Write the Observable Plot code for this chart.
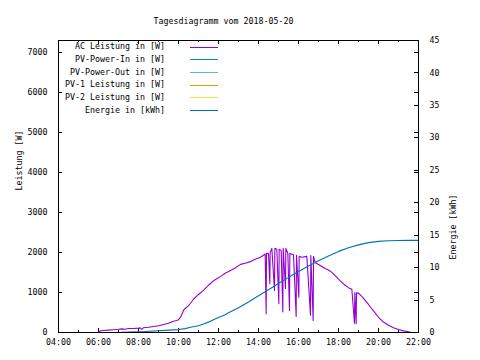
<!DOCTYPE html>
<html>
<head>
<meta charset="utf-8">
<script src="https://cdn.jsdelivr.net/npm/d3@7"></script>
<script src="https://cdn.jsdelivr.net/npm/@observablehq/plot@0.6"></script>
<style>
  body { margin: 0; background: #fff; }
  svg line, svg rect { shape-rendering: crispEdges; }
</style>
</head>
<body>
<div id="chart"></div>
<script>
const title = "Tagesdiagramm vom 2018-05-20";
const yLabel = "Leistung [W]";
const y2Label = "Energie [kWh]";
const seriesNames = ["AC Leistung in [W]", "PV-Power-In in [W]", "PV-Power-Out in [W]", "PV-1 Leistung in [W]", "PV-2 Leistung in [W]", "Energie in [kWh]"];
const seriesColors = ["#9400d3", "#009e73", "#56b4e9", "#e69f00", "#f0e442", "#0072b2"];

const xMajor = [4, 6, 8, 10, 12, 14, 16, 18, 20, 22];
const xMinor = [5, 7, 9, 11, 13, 15, 17, 19, 21];
const yTicks = [0, 1000, 2000, 3000, 4000, 5000, 6000, 7000];
const y2Ticks = [0, 5, 10, 15, 20, 25, 30, 35, 40, 45];
const yMax = 7290;
const y2Max = 45;

const acTime = ["06:00","06:05","06:15","06:30","06:45","07:00","07:10","07:20","07:30","07:45","08:00","08:05","08:10","08:15","08:30","08:45","09:00","09:15","09:30","09:45","09:55","10:00","10:06","10:10","10:15","10:20","10:30","10:36","10:45","11:00","11:15","11:30","11:45","11:56","12:10","12:20","12:36","12:50","13:06","13:20","13:36","13:50","14:06","14:15","14:20","14:23","14:24","14:30","14:34","14:35","14:40","14:48","14:49","14:55","15:01","15:02","15:08","15:13","15:14","15:21","15:22","15:28","15:33","15:34","15:45","15:53","15:54","16:01","16:02","16:10","16:25","16:36","16:37","16:44","16:45","16:50","17:00","17:10","17:20","17:30","17:40","17:50","18:00","18:10","18:20","18:30","18:40","18:48","18:49","18:53","18:54","19:00","19:10","19:20","19:30","19:36","19:45","20:00","20:15","20:30","20:45","21:00","21:15","21:30","21:36"];
const acPower = [10,40,50,60,70,80,90,80,100,100,110,115,80,120,130,150,170,200,230,280,300,320,380,450,550,600,670,730,830,950,1050,1180,1290,1350,1420,1480,1550,1610,1700,1730,1770,1830,1880,1930,1960,470,1980,1970,1220,2000,2100,1050,2100,2080,720,2080,2050,510,2100,1100,2100,1980,550,1975,1940,400,1930,880,1900,1880,1900,430,1920,300,1900,1750,1700,1650,1600,1560,1500,1420,1330,1250,1180,1120,1080,230,1000,220,990,980,900,800,700,630,540,380,260,180,120,75,40,20,5];

const eTime = ["07:09","08:20","09:45","10:00","10:20","10:36","11:00","11:15","11:30","12:00","12:20","12:30","13:00","13:30","14:00","14:30","15:00","15:30","16:00","16:30","17:00","17:30","18:00","18:30","19:00","19:30","20:00","20:30","21:00","21:30","22:00"];
const eValue = [0.05,0.15,0.4,0.45,0.6,0.8,1.05,1.3,1.6,2.3,2.75,3.05,3.8,4.7,5.65,6.6,7.55,8.5,9.4,10.25,11.05,11.8,12.5,13.05,13.5,13.85,14.05,14.15,14.18,14.2,14.2];

// series without visible data
const pvInTime = [], pvInPower = [];
const pvOutTime = [], pvOutPower = [];
const pv1Time = [], pv1Power = [];
const pv2Time = [], pv2Power = [];

const toHours = s => { const [h, m] = s.split(":").map(Number); return h + m / 60; };
const mk = (ts, vs) => ts.map((t, i) => ({t: toHours(t), v: vs[i]}));
const ac = mk(acTime, acPower);
const en = mk(eTime, eValue);
const pvIn = mk(pvInTime, pvInPower);
const pvOut = mk(pvOutTime, pvOutPower);
const pv1 = mk(pv1Time, pv1Power);
const pv2 = mk(pv2Time, pv2Power);
const K = yMax / y2Max;
const fmtH = h => String(h).padStart(2, "0") + ":00";
const FONT = "DejaVu Sans Mono";

const plot = Plot.plot({
  width: 480, height: 360,
  marginLeft: 58, marginRight: 62, marginTop: 40, marginBottom: 28,
  x: {domain: [4, 22]},
  y: {domain: [0, yMax]},
  style: {fontFamily: FONT, fontSize: "8.3px", background: "#fff", color: "#000"},
  marks: [
    Plot.axisX(xMajor, {tickSize: 0, tickPadding: 7, tickFormat: fmtH, label: null}),
    Plot.axisY(yTicks, {anchor: "left", tickSize: 0, tickPadding: 11, tickFormat: d => String(d), label: null}),
    Plot.axisY(y2Ticks.map(d => d * K), {anchor: "right", tickSize: 0, tickPadding: 11, tickFormat: v => String(Math.round(v / K)), label: null}),
    Plot.tickX(xMajor, {x: d => d, insetTop: 288, stroke: "#000"}),
    Plot.tickX(xMajor, {x: d => d, insetBottom: 288, stroke: "#000"}),
    Plot.tickX(xMinor, {x: d => d, insetTop: 290, stroke: "#000"}),
    Plot.tickX(xMinor, {x: d => d, insetBottom: 290, stroke: "#000"}),
    Plot.tickY(yTicks, {y: d => d, insetRight: 356, stroke: "#000"}),
    Plot.tickY(yTicks, {y: d => d, insetLeft: 356, stroke: "#000"}),
    Plot.tickY(y2Ticks, {y: d => d * K, insetLeft: 356, stroke: "#000"}),
    Plot.line(ac, {x: "t", y: "v", stroke: seriesColors[0], strokeWidth: 1.1}),
    Plot.line(pvIn, {x: "t", y: "v", stroke: seriesColors[1], strokeWidth: 1}),
    Plot.line(pvOut, {x: "t", y: "v", stroke: seriesColors[2], strokeWidth: 1}),
    Plot.line(pv1, {x: "t", y: "v", stroke: seriesColors[3], strokeWidth: 1}),
    Plot.line(pv2, {x: "t", y: "v", stroke: seriesColors[4], strokeWidth: 1}),
    Plot.line(en, {x: "t", y: d => d.v * K, stroke: seriesColors[5], strokeWidth: 1.1}),
    Plot.frame({stroke: "#000"}),
    Plot.text([title], {frameAnchor: "top", text: d => d, dx: -15, dy: -22, fill: "#000"}),
    Plot.text([yLabel], {frameAnchor: "left", text: d => d, rotate: -90, dx: -39, dy: 4, fill: "#000"}),
    Plot.text([y2Label], {frameAnchor: "right", text: d => d, rotate: -90, dx: 35, dy: 8, fill: "#000"})
  ]
});

document.getElementById("chart").appendChild(plot);

// legend (gnuplot style, inside top-left)
const svg = d3.select(plot);
const lg = svg.append("g").attr("font-family", FONT).attr("font-size", "8.3px");
seriesNames.forEach((name, i) => {
  const yy = 46.7 + i * 12.67;
  lg.append("text").attr("x", 165).attr("y", yy).attr("text-anchor", "end")
    .attr("dy", "0.32em").attr("fill", "#000").text(name);
  lg.append("line").attr("x1", 190).attr("x2", 218).attr("y1", Math.round(yy) + 0.5).attr("y2", Math.round(yy) + 0.5)
    .attr("stroke", seriesColors[i]).attr("stroke-width", 1);
});
</script>
</body>
</html>
